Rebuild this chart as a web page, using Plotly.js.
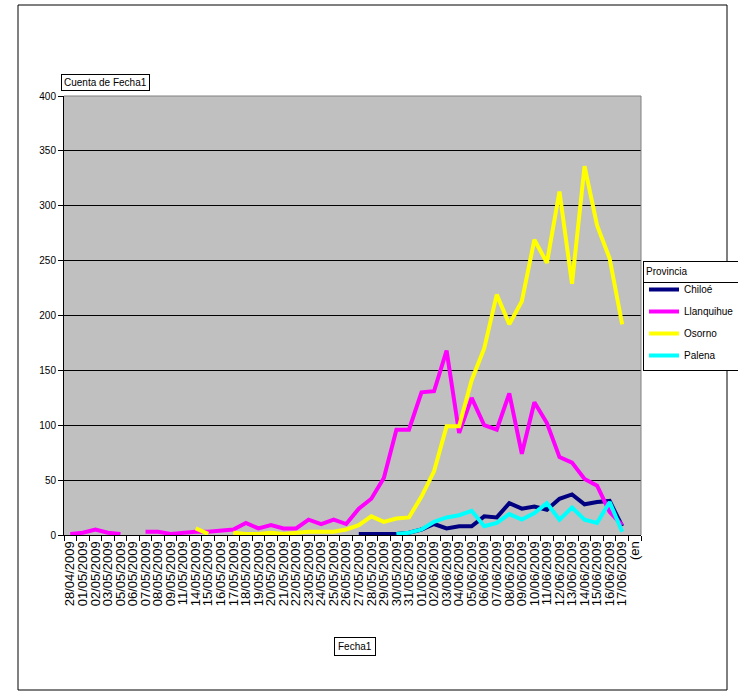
<!DOCTYPE html>
<html>
<head>
<meta charset="utf-8">
<script src="https://cdn.plot.ly/plotly-3.0.1.min.js"></script>
<style>
html,body{margin:0;padding:0;background:#fff;}
#chart{width:738px;height:696px;}
</style>
</head>
<body>
<div id="chart"></div>
<script>
var categories = ["28/04/2009","01/05/2009","02/05/2009","03/05/2009","05/05/2009","06/05/2009","07/05/2009","08/05/2009","09/05/2009","11/05/2009","14/05/2009","15/05/2009","16/05/2009","17/05/2009","18/05/2009","19/05/2009","20/05/2009","21/05/2009","22/05/2009","23/05/2009","24/05/2009","25/05/2009","26/05/2009","27/05/2009","28/05/2009","29/05/2009","30/05/2009","31/05/2009","01/06/2009","02/06/2009","03/06/2009","04/06/2009","05/06/2009","06/06/2009","07/06/2009","08/06/2009","09/06/2009","10/06/2009","11/06/2009","12/06/2009","13/06/2009","14/06/2009","15/06/2009","16/06/2009","17/06/2009","(en blanco)"];
var tickLabels = categories.slice(0, 45).concat(["(en"]);

var chiloe = [null,null,null,null,null,null,null,null,null,null,null,null,null,null,null,null,null,null,null,null,null,null,null,
  1,1,1,1,2,5,10,6,8,8,17,16,29,24,26,23,33,37,28,30,31,8,null];
var llanquihue = [1,2,5,2,1,null,3,3,1,2,3,3,4,5,11,6,9,6,6,14,10,14,10,
  24,33,52,96,96,130,131,168,93,125,100,96,129,74,121,102,71,66,51,45,21,9,null];
var osorno = [null,null,null,null,null,null,null,null,null,null,6,1,null,2,1,1,2,1,2,3,3,3,5,
  9,17,12,15,16,35,58,99,99,141,170,219,192,213,269,248,313,229,336,282,252,192,null];
var palena = [null,null,null,null,null,null,null,null,null,null,null,null,null,null,null,null,null,null,null,null,null,null,null,
  null,null,null,1,2,5,12,16,18,22,8,11,19,14,20,29,14,25,14,11,30,3,null];

var seriesNames = ["Chiloé","Llanquihue","Osorno","Palena"];
var seriesValues = [chiloe, llanquihue, osorno, palena];
var seriesColors = ["#000080","#FF00FF","#FFFF00","#00FFFF"];

var traces = seriesNames.map(function(n, k){
  return {
    type: "scatter", mode: "lines", name: n, legendgroup: "g" + k,
    x: categories, y: seriesValues[k],
    connectgaps: false,
    line: {color: seriesColors[k], width: 4}
  };
});

var F = "Arial, 'Liberation Sans', sans-serif";
// pixel helpers for paper coords (plot area x 64..641, y 96..535)
var PL = 64, PR = 641, PT = 96, PB = 535;
function px(x){ return (x-PL)/(PR-PL); }
function py(y){ return (PB-y)/(PB-PT); }

var layout = {
  width: 738, height: 696,
  margin: {l:PL, r:738-PR, t:PT, b:696-PB, pad:0, autoexpand:false},
  paper_bgcolor: "#FFFFFF",
  plot_bgcolor: "#C0C0C0",
  font: {family: F, size: 10, color: "#000"},
  showlegend: true,
  xaxis: {
    type: "category",
    categoryorder: "array", categoryarray: categories,
    tickmode: "array", tickvals: categories, ticktext: tickLabels,
    tickangle: -90,
    ticks: "outside", tickson: "boundaries", ticklen: 5, tickcolor: "#000", tickwidth: 1,
    showline: true, linecolor: "#000", linewidth: 1,
    showgrid: false, zeroline: false,
    tickfont: {family: F, size: 13, color: "#000"},
    range: [-0.5, 45.5],
    fixedrange: true
  },
  yaxis: {
    range: [0, 400], tickmode: "linear", tick0: 0, dtick: 50,
    ticks: "outside", ticklen: 5, tickcolor: "#000", tickwidth: 1,
    showline: true, linecolor: "#000", linewidth: 1,
    showgrid: true, gridcolor: "#000", gridwidth: 1,
    zeroline: false,
    tickfont: {family: F, size: 10, color: "#000"},
    fixedrange: true
  },
  legend: {
    xref: "container", yref: "container",
    x: 643/738, y: 1 - 261/696, xanchor: "left", yanchor: "top",
    bgcolor: "rgba(255,255,255,0)", bordercolor: "#000", borderwidth: 1,
    font: {family: F, size: 10, color: "#000"},
    title: {text: "Provincia", font: {family: F, size: 10, color: "#000"}},
    itemwidth: 30, tracegroupgap: 3, traceorder: "grouped"
  },
  shapes: [
    {type:"line", xref:"paper", yref:"paper", x0:0, x1:1, y0:1, y1:1, line:{color:"#808080", width:1}},
    {type:"line", xref:"paper", yref:"paper", x0:1, x1:1, y0:0, y1:1, line:{color:"#808080", width:1}},
    {type:"rect", xref:"paper", yref:"paper", x0:px(18), x1:px(727), y0:py(690), y1:py(5), line:{color:"#000", width:1}, fillcolor:"rgba(0,0,0,0)"}
  ],
  annotations: [
    {text: "Cuenta de Fecha1", xref:"paper", yref:"paper", x: px(105.5), y: py(83),
     xanchor:"center", yanchor:"middle", showarrow:false,
     font:{family:F, size:10, color:"#000"}, bgcolor:"#FFFFFF", bordercolor:"#000", borderwidth:1, borderpad:2},
    {text: "Fecha1", xref:"paper", yref:"paper", x: px(355), y: py(646),
     xanchor:"center", yanchor:"middle", showarrow:false,
     font:{family:F, size:10, color:"#000"}, bgcolor:"#FFFFFF", bordercolor:"#000", borderwidth:1, borderpad:3}
  ]
};

Plotly.newPlot("chart", traces, layout, {displayModeBar:false, staticPlot:true}).then(function(gd){
  // white panel + separator line under the legend title, sized to the rendered legend box
  var bg = gd.querySelector(".legend .bg");
  if (bg) {
    var r = bg.getBoundingClientRect(), g = gd.getBoundingClientRect();
    var lx = r.left - g.left, ly = r.top - g.top, w = r.width, h = r.height;
    var sy = ly + 21;
    Plotly.relayout(gd, {
      "shapes[3]": {type:"rect", xref:"paper", yref:"paper",
        x0: px(lx), x1: px(lx + w), y0: py(ly + h), y1: py(ly),
        line:{width:0}, fillcolor:"#FFFFFF"},
      "shapes[4]": {type:"line", xref:"paper", yref:"paper",
        x0: px(lx + 0.5), x1: px(lx + w - 0.5), y0: py(sy), y1: py(sy), line:{color:"#000", width:1}}
    });
  }
});
</script>
</body>
</html>
